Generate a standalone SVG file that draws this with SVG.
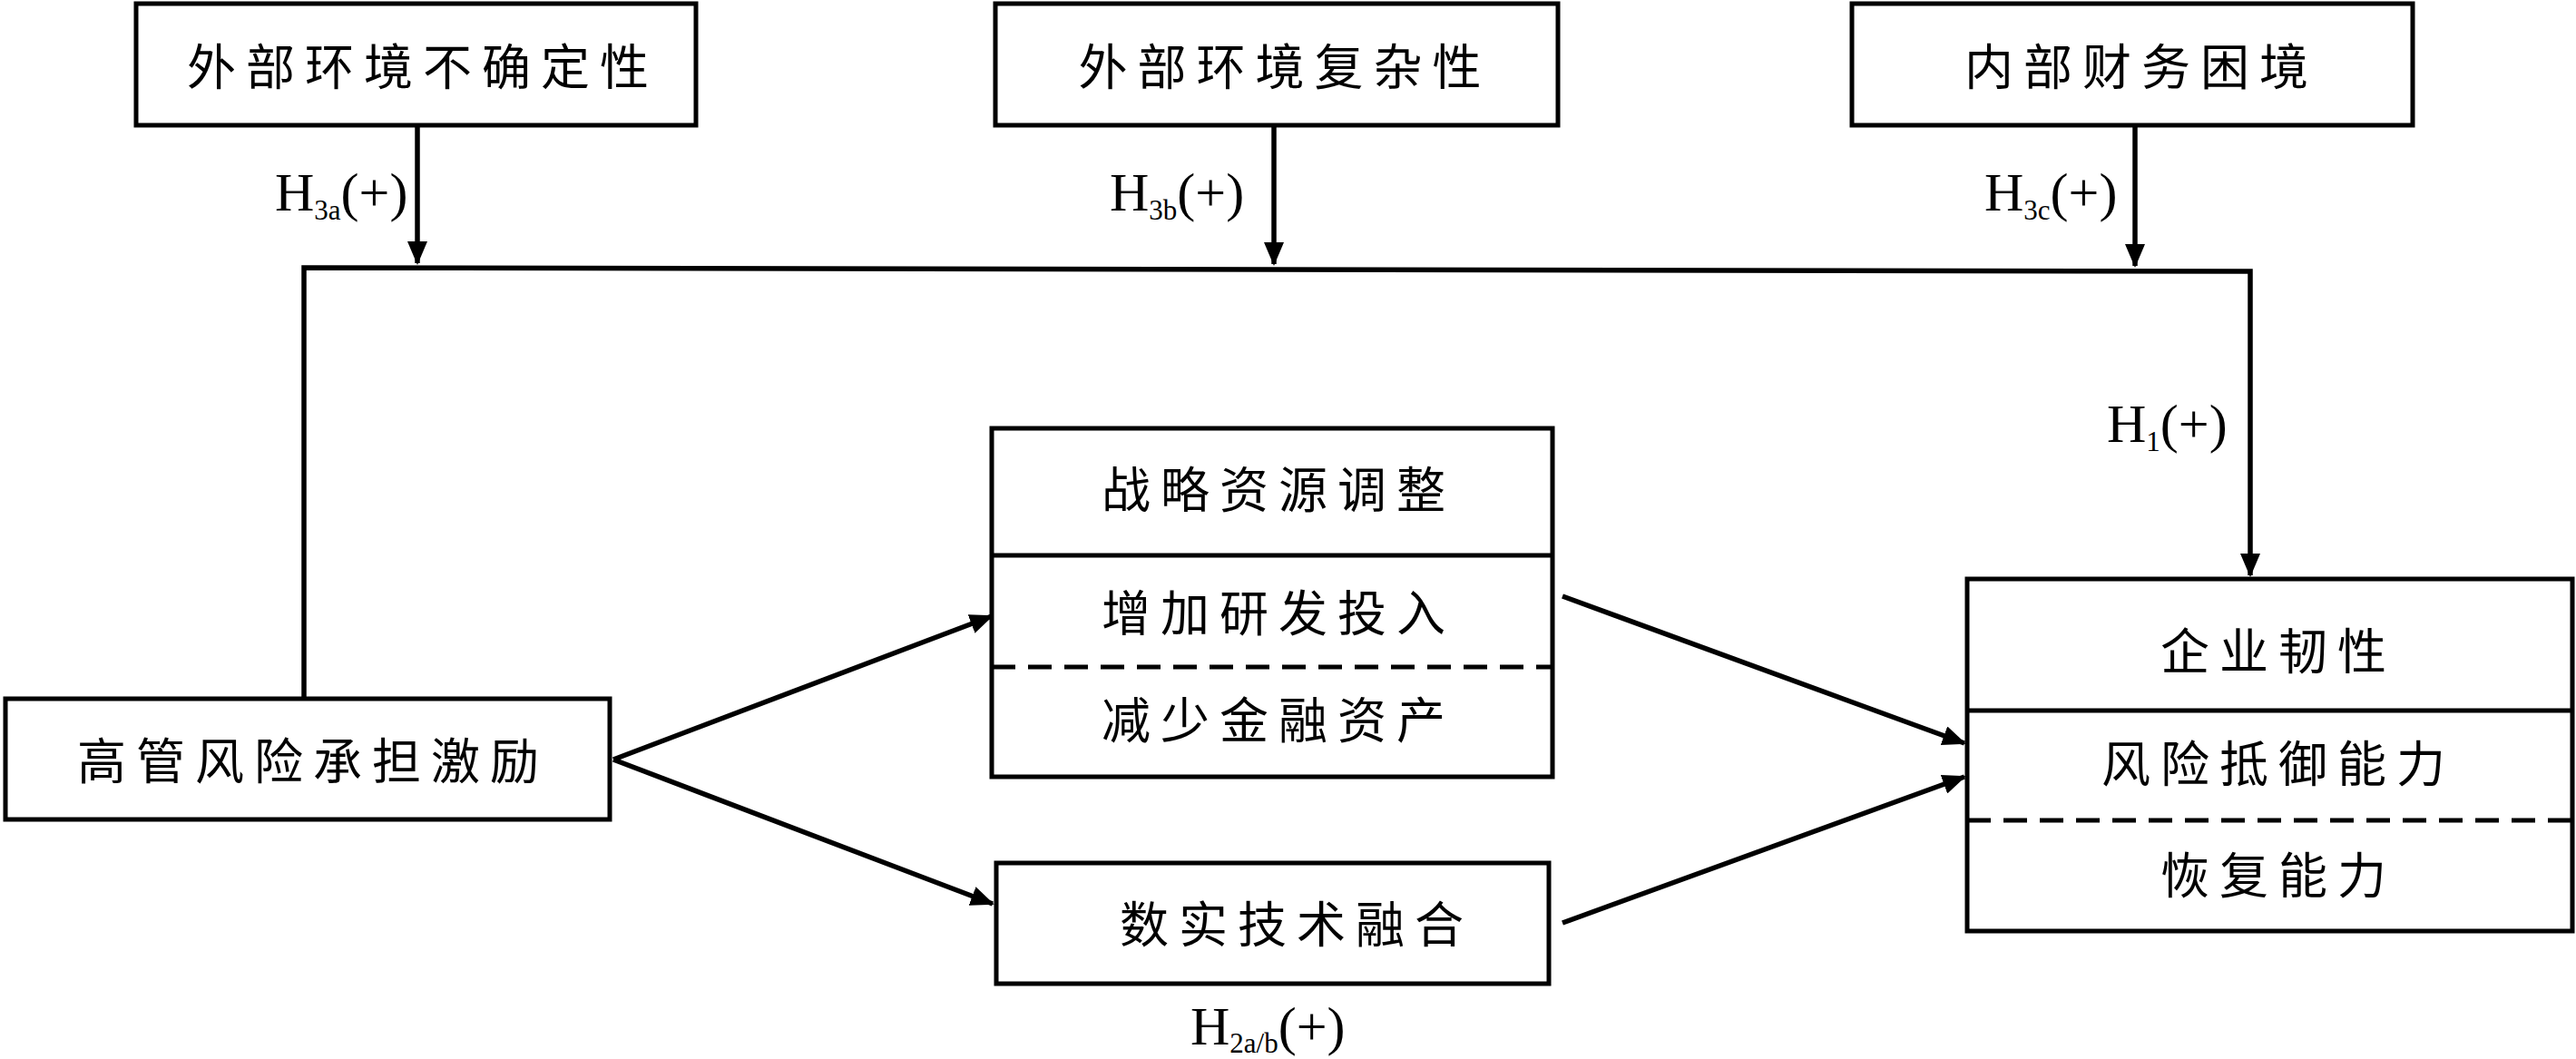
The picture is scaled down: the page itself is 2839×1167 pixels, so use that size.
<svg xmlns="http://www.w3.org/2000/svg" width="2839" height="1167" viewBox="0 0 2839 1167">
<style>
.box{fill:#fff;stroke:#000;stroke-width:5}
.div{stroke:#000;stroke-width:5;fill:none}
.dash{stroke:#000;stroke-width:5;fill:none;stroke-dasharray:26 14}
.t{font-family:"Noto Sans CJK SC","Noto Sans CJK JP",sans-serif;font-size:54px;letter-spacing:11px;text-anchor:middle;fill:#000}
.lbl{font-family:"Liberation Serif","Times New Roman",serif;font-size:60px;fill:#000}
.sub{font-size:31px}
.ln{stroke:#000;stroke-width:5.5;fill:none}
</style>
<defs>
<marker id="ah" markerUnits="userSpaceOnUse" markerWidth="26" markerHeight="22" viewBox="0 0 26 22" refX="24" refY="11" orient="auto">
<path d="M0,0 L26,11 L0,22 z" fill="#000"/>
</marker>
</defs>
<g id="connectors">
<line class="ln" x1="460" y1="140" x2="460" y2="290" marker-end="url(#ah)"/>
<line class="ln" x1="1404" y1="140" x2="1404" y2="291" marker-end="url(#ah)"/>
<line class="ln" x1="2353" y1="140" x2="2353" y2="293" marker-end="url(#ah)"/>
<polyline class="ln" points="335,770 335,295 2480,299 2480,634" marker-end="url(#ah)"/>
<line class="ln" x1="676" y1="837" x2="1093" y2="679" marker-end="url(#ah)"/>
<line class="ln" x1="676" y1="837" x2="1094" y2="996" marker-end="url(#ah)"/>
<line class="ln" x1="1722" y1="657" x2="2165" y2="819" marker-end="url(#ah)"/>
<line class="ln" x1="1722" y1="1017" x2="2165" y2="856" marker-end="url(#ah)"/>
<text class="lbl" x="303" y="232">H<tspan class="sub" dy="10">3a</tspan><tspan dy="-10">(+)</tspan></text>
<text class="lbl" x="1223" y="232">H<tspan class="sub" dy="10">3b</tspan><tspan dy="-10">(+)</tspan></text>
<text class="lbl" x="2187" y="232">H<tspan class="sub" dy="10">3c</tspan><tspan dy="-10">(+)</tspan></text>
<text class="lbl" x="2322" y="487">H<tspan class="sub" dy="10">1</tspan><tspan dy="-10">(+)</tspan></text>
<text class="lbl" x="1312" y="1151">H<tspan class="sub" dy="9">2a/b</tspan><tspan dy="-9">(+)</tspan></text>
</g>
<g id="n-uncertainty">
<rect class="box" x="150" y="4" width="617" height="134"/>
<text class="t" x="466" y="94">外部环境不确定性</text>
</g>
<g id="n-complexity">
<rect class="box" x="1097" y="4" width="620" height="134"/>
<text class="t" x="1416" y="94">外部环境复杂性</text>
</g>
<g id="n-distress">
<rect class="box" x="2041" y="4" width="618" height="134"/>
<text class="t" x="2360" y="94">内部财务困境</text>
</g>
<g id="n-incentive">
<rect class="box" x="6" y="770" width="666" height="133"/>
<text class="t" x="345" y="859">高管风险承担激励</text>
</g>
<g id="n-strategy">
<rect class="box" x="1093" y="472" width="618" height="384"/>
<line class="div" x1="1093" y1="612" x2="1711" y2="612"/>
<line class="dash" x1="1093" y1="735" x2="1711" y2="735"/>
<text class="t" x="1409" y="560">战略资源调整</text>
<text class="t" x="1409" y="696">增加研发投入</text>
<text class="t" x="1409" y="814">减少金融资产</text>
</g>
<g id="n-digital">
<rect class="box" x="1098" y="951" width="609" height="133"/>
<text class="t" x="1429" y="1039">数实技术融合</text>
</g>
<g id="n-resilience">
<rect class="box" x="2168" y="638" width="667" height="388"/>
<line class="div" x1="2168" y1="783" x2="2835" y2="783"/>
<line class="dash" x1="2168" y1="904" x2="2835" y2="904"/>
<text class="t" x="2511" y="738">企业韧性</text>
<text class="t" x="2511" y="862">风险抵御能力</text>
<text class="t" x="2511" y="985">恢复能力</text>
</g>
</svg>
